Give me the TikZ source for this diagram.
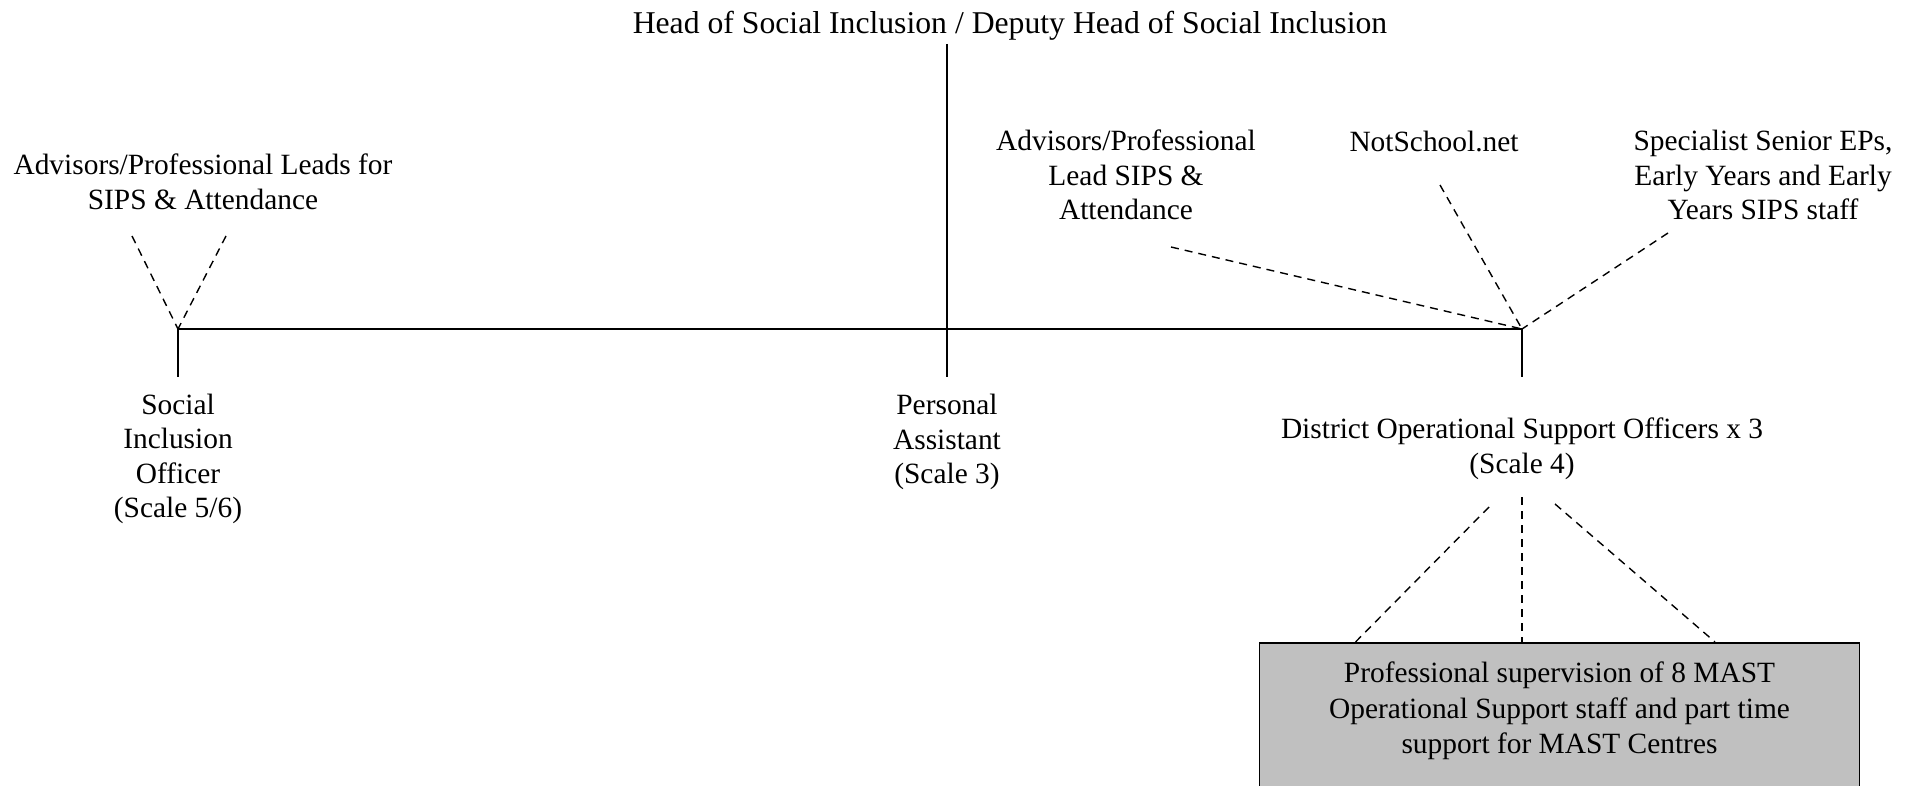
\documentclass[tikz,border=0pt]{standalone}
\usepackage{fontspec}
\setmainfont{Liberation Serif}
\definecolor{boxgray}{HTML}{C0C0C0}
\begin{document}
\begin{tikzpicture}[x=1pt,y=-1pt,
  lbl/.style={align=center, inner sep=0pt, font=\fontsize{29.4}{34.5}\selectfont},
  ttl/.style={inner sep=0pt, font=\fontsize{31.7}{36}\selectfont},
  solidline/.style={line width=1.8pt},
  dashline/.style={line width=1.4pt, dash pattern=on 8pt off 6pt},
  graybox/.style={draw, line width=1.8pt, fill=boxgray, minimum width=600pt,
    minimum height=170pt, anchor=north, inner sep=0pt}]
  % page frame
  \path[use as bounding box] (0,0) rectangle (1916,786);
  \clip (0,0) rectangle (1916,786);

  % posts and notes
  \node[ttl] (head) at (1010,26) {Head of Social Inclusion / Deputy Head of Social Inclusion};
  \node[lbl] (advL) at (203,182) {Advisors/Professional Leads for\\SIPS \& Attendance};
  \node[lbl] (advR) at (1126,175) {Advisors/Professional\\Lead SIPS \&\\Attendance};
  \node[lbl] (nots) at (1434,142) {NotSchool.net};
  \node[lbl] (spec) at (1763,175) {Specialist Senior EPs,\\Early Years and Early\\Years SIPS staff};
  \node[lbl] (sio) at (178,459) {Social\\Inclusion\\Officer\\(Scale 5/6)};
  \node[lbl] (pa) at (947,442) {Personal\\Assistant\\(Scale 3)};
  \node[lbl] (dos) at (1522,449) {District Operational Support Officers x 3\\(Scale 4)};
  \node[graybox] (mast) at (1559.5,642) {};
  \node[lbl, font=\fontsize{29.4}{35.5}\selectfont] (masttxt) at (1559.5,711)
    {Professional supervision of 8 MAST\\Operational Support staff and part time\\support for MAST Centres};

  % line ends
  \coordinate (top) at (947,44);
  \coordinate (jL) at (178,329);
  \coordinate (jM) at (947,329);
  \coordinate (jR) at (1522,329);
  \coordinate (sL) at (178,377);
  \coordinate (sM) at (947,377);
  \coordinate (sR) at (1522,377);
  \coordinate (aL1) at (132,236);
  \coordinate (aL2) at (226,236);
  \coordinate (aR1) at (1171,247);
  \coordinate (aR2) at (1440,185);
  \coordinate (aR3) at (1668,233);
  \coordinate (d1) at (1489,507);
  \coordinate (d2) at (1522,497);
  \coordinate (d3) at (1555,504);
  \coordinate (m1) at (1355.5,642);
  \coordinate (m2) at (1522,642);
  \coordinate (m3) at (1715,642);

  % reporting lines
  \draw[solidline] (top) -- (sM);
  \draw[solidline] (jL) -- (jR);
  \draw[solidline] (jL) -- (sL);
  \draw[solidline] (jR) -- (sR);

  % advisory links
  \draw[dashline] (aL1) -- (jL);
  \draw[dashline] (aL2) -- (jL);
  \draw[dashline] (aR1) -- (jR);
  \draw[dashline] (aR2) -- (jR);
  \draw[dashline] (aR3) -- (jR);
  \draw[dashline] (d1) -- (m1);
  \draw[dashline] (d2) -- (m2);
  \draw[dashline] (d3) -- (m3);
\end{tikzpicture}
\end{document}
